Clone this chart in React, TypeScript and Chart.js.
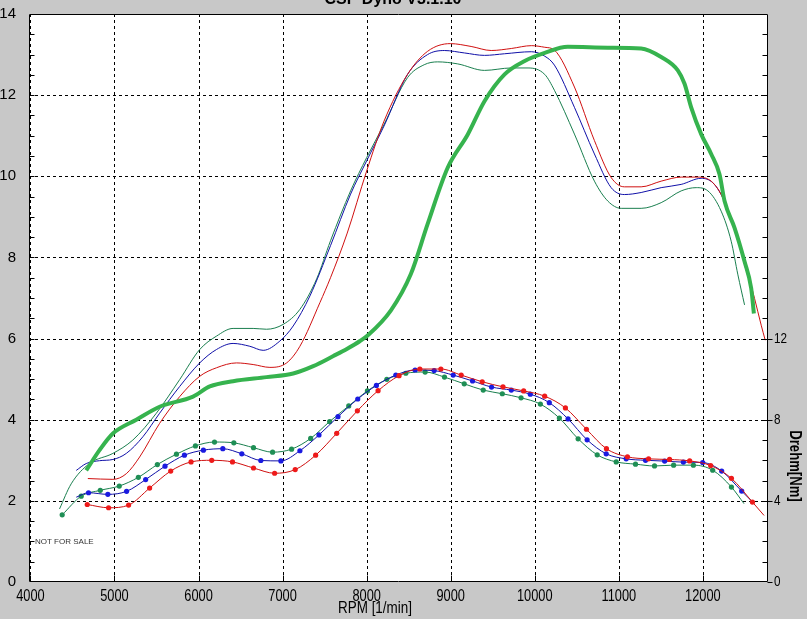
import React, { useEffect, useRef } from 'react';
import { Chart, registerables } from 'chart.js';
Chart.register(...registerables);

const X_MIN = 3983;
const X_MAX = 12775;
const X_TICKS = [4000, 5000, 6000, 7000, 8000, 9000, 10000, 11000, 12000];
const Y_TICKS = [0, 2, 4, 6, 8, 10, 12, 14];
const YR_TICKS = [0, 4, 8, 12];
const YR_MAX = 28;

const TITLE = 'CSP Dyno V3.1.10';
const X_TITLE = 'RPM [1/min]';
const YR_TITLE = 'Drehm[Nm]';
const NOTE = 'NOT FOR SALE';

// Power curves (left axis)
const redPowerRpm = [4683, 4981, 5141, 5299, 5537, 5776, 6014, 6213, 6452, 6650, 6849, 7048, 7206, 7445, 7570, 7769, 8000, 8207, 8486, 8725, 8996, 9243, 9482, 9721, 9960, 10119, 10234, 10472, 10710, 10909, 11067, 11266, 11504, 11742, 11940, 12099, 12218, 12377, 12496, 12615, 12694, 12742];
const redPower = [2.55, 2.53, 2.67, 3.08, 3.91, 4.57, 5.07, 5.28, 5.40, 5.36, 5.29, 5.40, 5.81, 6.89, 7.5, 8.6, 10.13, 11.36, 12.51, 13.08, 13.27, 13.2, 13.1, 13.15, 13.22, 13.18, 13.11, 12.2, 10.88, 9.97, 9.74, 9.74, 9.88, 9.98, 9.98, 9.88, 9.55, 8.73, 7.9, 6.99, 6.33, 5.96];

const bluePowerRpm = [4545, 4664, 4822, 4981, 5141, 5338, 5537, 5776, 6014, 6213, 6411, 6610, 6769, 6968, 7126, 7325, 7570, 7809, 8000, 8207, 8486, 8725, 8924, 9163, 9402, 9641, 9960, 10119, 10234, 10472, 10710, 10909, 11067, 11266, 11504, 11742, 11980, 12119, 12238, 12377, 12496, 12556];
const bluePower = [2.75, 2.92, 2.99, 3.02, 3.17, 3.58, 4.16, 4.82, 5.40, 5.73, 5.88, 5.81, 5.71, 5.94, 6.31, 7.05, 8.29, 9.56, 10.38, 11.24, 12.51, 13.0, 13.1, 13.04, 12.98, 13.02, 13.07, 12.96, 12.74, 11.7, 10.55, 9.72, 9.55, 9.6, 9.72, 9.8, 9.95, 9.84, 9.47, 8.73, 7.82, 7.4];

const greenPowerRpm = [4346, 4485, 4703, 4981, 5219, 5498, 5776, 6014, 6213, 6411, 6650, 6809, 7007, 7206, 7405, 7570, 7809, 8000, 8207, 8486, 8685, 8845, 9084, 9402, 9721, 9920, 10119, 10234, 10472, 10710, 10869, 11028, 11266, 11504, 11742, 11921, 12060, 12218, 12337, 12417, 12496];
const greenPower = [1.80, 2.42, 2.92, 3.17, 3.5, 4.16, 4.99, 5.73, 6.06, 6.25, 6.25, 6.23, 6.35, 6.72, 7.47, 8.41, 9.64, 10.46, 11.28, 12.43, 12.75, 12.82, 12.77, 12.61, 12.67, 12.67, 12.51, 12.12, 11.04, 9.88, 9.39, 9.21, 9.21, 9.35, 9.64, 9.72, 9.64, 9.14, 8.4, 7.57, 6.83];

const thickRpm = [4664, 4822, 4981, 5260, 5537, 5935, 6134, 6411, 6809, 7126, 7365, 7604, 7769, 7922, 8008, 8287, 8526, 8725, 8964, 9203, 9402, 9641, 9880, 10119, 10393, 10869, 11266, 11504, 11702, 11782, 11861, 11980, 12099, 12198, 12258, 12377, 12496, 12575, 12607];
const thickVal = [2.75, 3.25, 3.66, 4.0, 4.32, 4.57, 4.82, 4.95, 5.05, 5.14, 5.32, 5.57, 5.75, 5.94, 6.07, 6.69, 7.59, 8.82, 10.21, 11.03, 11.85, 12.51, 12.84, 13.04, 13.19, 13.17, 13.15, 12.94, 12.61, 12.28, 11.7, 11.04, 10.55, 10.05, 9.39, 8.73, 7.9, 7.24, 6.62];

// Torque curves (right axis, Nm)
const redTorqueRpm = [4676, 4930, 5168, 5418, 5669, 5911, 6157, 6404, 6654, 6905, 7150, 7393, 7644, 7890, 8136, 8386, 8633, 8883, 9125, 9375, 9622, 9868, 10118, 10365, 10615, 10853, 11103, 11354, 11604, 11843, 12093, 12340, 12590, 12728];
const redTorque = [3.82, 3.66, 3.79, 4.63, 5.47, 5.92, 6.0, 5.92, 5.62, 5.36, 5.54, 6.25, 7.33, 8.44, 9.43, 10.17, 10.5, 10.5, 10.2, 9.87, 9.62, 9.42, 9.16, 8.58, 7.53, 6.57, 6.17, 6.07, 6.04, 5.97, 5.74, 5.11, 3.94, 3.28];

const blueTorqueRpm = [4545, 4691, 4921, 5144, 5371, 5601, 5832, 6058, 6289, 6515, 6741, 6980, 7206, 7433, 7659, 7894, 8116, 8347, 8577, 8803, 9030, 9260, 9486, 9721, 9947, 10173, 10396, 10623, 10850, 11088, 11318, 11545, 11768, 11998, 12224, 12462, 12585];
const blueTorque = [4.18, 4.40, 4.32, 4.47, 5.05, 5.71, 6.25, 6.50, 6.57, 6.32, 5.99, 5.97, 6.47, 7.25, 8.15, 9.02, 9.69, 10.2, 10.45, 10.42, 10.2, 9.91, 9.61, 9.46, 9.26, 8.84, 8.04, 7.01, 6.32, 6.07, 6.0, 5.96, 5.91, 5.89, 5.47, 4.48, 3.97];

const greenTorqueRpm = [4378, 4604, 4831, 5057, 5284, 5510, 5737, 5963, 6190, 6420, 6654, 6881, 7107, 7334, 7560, 7787, 8009, 8240, 8466, 8696, 8926, 9161, 9387, 9614, 9837, 10067, 10293, 10516, 10743, 10969, 11199, 11425, 11652, 11887, 12117, 12340, 12490];
const greenTorque = [3.31, 4.23, 4.52, 4.73, 5.16, 5.79, 6.30, 6.71, 6.90, 6.86, 6.62, 6.40, 6.55, 7.08, 7.91, 8.68, 9.42, 9.99, 10.29, 10.35, 10.1, 9.77, 9.46, 9.28, 9.08, 8.77, 8.08, 7.06, 6.27, 5.92, 5.81, 5.72, 5.76, 5.76, 5.51, 4.68, 3.86];

const pts = (xs: number[], ys: number[]) => xs.map((x, i) => ({ x, y: ys[i] }));
const markers = (xs: number[], first: boolean, last: boolean) =>
  xs.map((_, i) => ((i === 0 && !first) || (i === xs.length - 1 && !last) ? 0 : 2.6));

const REG = "'Liberation Sans', Arial, sans-serif";

function squeezeText(ctx: any, text: string, x: number, y: number, font: string, sx: number, align: string, baseline: string, rot = 0) {
  ctx.save();
  ctx.translate(x, y);
  if (rot) ctx.rotate(rot);
  ctx.scale(sx, 1);
  ctx.font = font;
  ctx.textAlign = align;
  ctx.textBaseline = baseline;
  ctx.fillText(text, 0, 0);
  ctx.restore();
}

const decor = {
  id: 'decor',
  beforeDraw(chart: any) {
    const { ctx, chartArea: a, width, height } = chart;
    const x = chart.scales.x;
    const y = chart.scales.y;
    ctx.save();
    ctx.fillStyle = '#c8c8c8';
    ctx.fillRect(0, 0, width, height);
    ctx.fillStyle = '#ffffff';
    ctx.fillRect(a.left, a.top, a.right - a.left, a.bottom - a.top);
    ctx.strokeStyle = '#000';
    ctx.lineWidth = 1;
    ctx.setLineDash([3, 3]);
    ctx.beginPath();
    X_TICKS.forEach((v) => {
      const px = Math.round(x.getPixelForValue(v)) + 0.5;
      ctx.moveTo(px, a.top);
      ctx.lineTo(px, a.bottom);
    });
    Y_TICKS.forEach((v) => {
      if (v <= 0 || v >= 14) return;
      const py = Math.round(y.getPixelForValue(v)) + 0.5;
      ctx.moveTo(a.left, py);
      ctx.lineTo(a.right, py);
    });
    ctx.stroke();
    ctx.restore();
  },
  afterDatasetsDraw(chart: any) {
    const { ctx, chartArea: a } = chart;
    const y = chart.scales.y;
    const yr = chart.scales.yR;
    const x = chart.scales.x;
    ctx.save();
    ctx.strokeStyle = '#000';
    ctx.lineWidth = 1;
    ctx.setLineDash([]);
    const L = Math.round(a.left) + 0.5;
    const R = Math.round(a.right) - 0.5;
    const T = Math.round(a.top) + 0.5;
    const B = Math.round(a.bottom) - 0.5;
    ctx.beginPath();
    ctx.rect(L, T, R - L, B - T);
    for (let v = 0.5; v < 14; v += 0.5) {
      const py = Math.round(y.getPixelForValue(v)) + 0.5;
      ctx.moveTo(L, py);
      ctx.lineTo(L + 5, py);
    }
    for (let v = 1; v < YR_MAX; v += 1) {
      const py = Math.round(yr.getPixelForValue(v)) + 0.5;
      ctx.moveTo(R, py);
      ctx.lineTo(R - 5, py);
    }
    YR_TICKS.forEach((v) => {
      const py = Math.round(yr.getPixelForValue(v)) + 0.5;
      ctx.moveTo(R, py);
      ctx.lineTo(R + 5, py);
    });
    X_TICKS.forEach((v) => {
      const px = Math.round(x.getPixelForValue(v)) + 0.5;
      ctx.moveTo(px, B);
      ctx.lineTo(px, B - 6);
    });
    ctx.stroke();
    ctx.restore();
  },
  afterDraw(chart: any) {
    const { ctx, chartArea: a } = chart;
    const x = chart.scales.x;
    const yr = chart.scales.yR;
    ctx.save();
    ctx.fillStyle = '#000';
    // title (cut by the top edge, as in the original)
    squeezeText(ctx, TITLE, 393, 4, `bold 16px ${REG}`, 1, 'center', 'alphabetic');
    // x tick labels
    X_TICKS.forEach((v) => {
      squeezeText(ctx, String(v), x.getPixelForValue(v), 601, `16px ${REG}`, 0.8, 'center', 'alphabetic');
    });
    // right tick labels
    YR_TICKS.forEach((v) => {
      squeezeText(ctx, String(v), Math.round(a.right) + 6, yr.getPixelForValue(v), `15px ${REG}`, 0.78, 'left', 'middle');
    });
    // axis titles
    squeezeText(ctx, X_TITLE, 375, 613, `16px ${REG}`, 0.84, 'center', 'alphabetic');
    squeezeText(ctx, YR_TITLE, 794, 466, `bold 16px ${REG}`, 0.82, 'center', 'middle', Math.PI / 2);
    ctx.fillStyle = '#333';
    squeezeText(ctx, NOTE, 35, 542, `8px ${REG}`, 1, 'left', 'middle');
    ctx.restore();
  },
};

export default function App() {
  const ref = useRef<HTMLCanvasElement | null>(null);
  useEffect(() => {
    if (!ref.current) return;
    const redLine = '#d01010', redDot = '#ee1a1a';
    const blueLine = '#1010a8', blueDot = '#1a1ae0';
    const greenLine = '#1a7f4f', greenDot = '#1f8f55';
    const thick = '#36b34e';
    const base = { fill: false, cubicInterpolationMode: 'monotone' as const, pointBorderWidth: 0 };
    const chart = new Chart(ref.current, {
      type: 'line',
      data: {
        datasets: [
          { ...base, data: pts(thickRpm, thickVal), borderColor: thick, borderWidth: 4, pointRadius: 0, yAxisID: 'y' },
          { ...base, data: pts(redTorqueRpm, redTorque), borderColor: redLine, backgroundColor: redDot, pointBackgroundColor: redDot, borderWidth: 1, pointRadius: markers(redTorqueRpm, true, false), yAxisID: 'yR' },
          { ...base, data: pts(blueTorqueRpm, blueTorque), borderColor: blueLine, backgroundColor: blueDot, pointBackgroundColor: blueDot, borderWidth: 1, pointRadius: markers(blueTorqueRpm, false, false), yAxisID: 'yR' },
          { ...base, data: pts(greenTorqueRpm, greenTorque), borderColor: greenLine, backgroundColor: greenDot, pointBackgroundColor: greenDot, borderWidth: 1, pointRadius: markers(greenTorqueRpm, true, false), yAxisID: 'yR' },
          { ...base, data: pts(redPowerRpm, redPower), borderColor: redLine, borderWidth: 1, pointRadius: 0, yAxisID: 'y' },
          { ...base, data: pts(bluePowerRpm, bluePower), borderColor: blueLine, borderWidth: 1, pointRadius: 0, yAxisID: 'y' },
          { ...base, data: pts(greenPowerRpm, greenPower), borderColor: greenLine, borderWidth: 1, pointRadius: 0, yAxisID: 'y' },
        ],
      },
      options: {
        animation: false,
        responsive: false,
        maintainAspectRatio: false,
        layout: { padding: { top: 13, left: 0, right: 0, bottom: 0 } },
        plugins: { legend: { display: false }, tooltip: { enabled: false }, title: { display: false } },
        scales: {
          x: {
            type: 'linear',
            min: X_MIN,
            max: X_MAX,
            afterBuildTicks: (s: any) => { s.ticks = X_TICKS.map((v) => ({ value: v })); },
            afterFit: (s: any) => { s.height = 37; },
            grid: { display: false },
            border: { display: false },
            ticks: { display: false },
          },
          y: {
            type: 'linear',
            position: 'left',
            min: 0,
            max: 14,
            afterBuildTicks: (s: any) => { s.ticks = Y_TICKS.map((v) => ({ value: v })); },
            afterFit: (s: any) => { s.width = 29; },
            grid: { display: false },
            border: { display: false },
            ticks: { color: '#000', font: { family: REG, size: 15 }, padding: 5, autoSkip: false, callback: (v: any) => String(v) },
          },
          yR: {
            type: 'linear',
            position: 'right',
            min: 0,
            max: YR_MAX,
            afterBuildTicks: (s: any) => { s.ticks = YR_TICKS.map((v) => ({ value: v })); },
            afterFit: (s: any) => { s.width = 39; },
            grid: { display: false },
            border: { display: false },
            ticks: { display: false },
          },
        },
      },
      plugins: [decor],
    });
    return () => chart.destroy();
  }, []);
  return (
    <div style={{ position: 'fixed', left: 0, top: 0, width: 807, height: 619 }}>
      <canvas ref={ref} width={807} height={619} style={{ display: 'block' }} />
    </div>
  );
}
